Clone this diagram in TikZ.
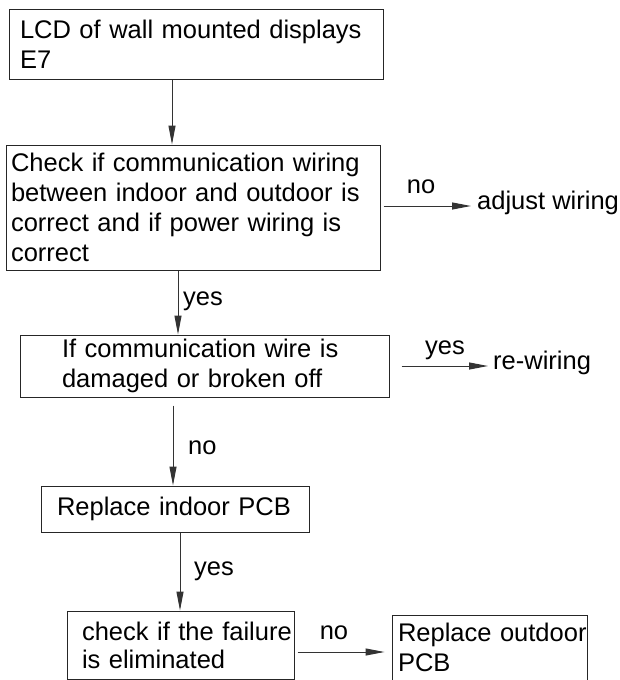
\documentclass[tikz,border=0pt]{standalone}
\usepackage{fontspec}
\setmainfont{Liberation Sans}
\usetikzlibrary{arrows.meta}
\begin{document}
\begin{tikzpicture}[x=1pt,y=-1pt,
  box/.style={draw=black!85, line width=1pt, rectangle, align=left, inner ysep=0pt, font=\fontsize{25.5}{30}\selectfont, text=black},
  lbl/.style={inner sep=0pt, font=\fontsize{25.5}{30}\selectfont, text=black},
  arr/.style={draw=black!80, line width=1pt, -{Triangle[length=19pt,width=7pt]}},
]
\useasboundingbox (0,0) rectangle (619,680);
\node[box, minimum width=374pt, minimum height=70pt, inner xsep=11pt, text width=352pt] (b1) at (196,44) {\mbox{LCD of wall mounted displays}\\E7};
\node[box, minimum width=374pt, minimum height=125pt, inner xsep=5pt, text width=364pt] (b2) at (193,207.5) {\mbox{Check if communication wiring}\\\mbox{between indoor and outdoor is}\\\mbox{correct and if power wiring is}\\correct};
\node[box, minimum width=369pt, minimum height=62pt, inner xsep=42pt, text width=285pt] (b3) at (204.5,366) {\mbox{If communication wire is}\\\mbox{damaged or broken off}};
\node[box, minimum width=268pt, minimum height=46pt, inner xsep=16pt, text width=236pt] (b4) at (175,509) {\mbox{Replace indoor PCB}};
\node[box, minimum width=227pt, minimum height=68pt, inner xsep=15pt, text width=197pt, font=\fontsize{25.5}{28}\selectfont] (b5) at (180.5,645) {\mbox{check if the failure}\\\mbox{is eliminated}};
\node[box, minimum width=195pt, minimum height=65pt, inner xsep=6pt, text width=183pt] (b6) at (489.5,647.5) {\mbox{Replace outdoor}\\PCB};

\node[lbl, anchor=base west] (t1) at (477,209) {adjust wiring};
\node[lbl, anchor=base west] (t2) at (493,369) {re-wiring};

\node[lbl, anchor=base] (l1) at (421,193) {no};
\node[lbl, anchor=base] (l2) at (445,354) {yes};
\node[lbl, anchor=base west] (l3) at (183,305) {yes};
\node[lbl, anchor=base west] (l4) at (188,454) {no};
\node[lbl, anchor=base west] (l5) at (194,575) {yes};
\node[lbl, anchor=base] (l6) at (334,639) {no};

\draw[arr] (b1.south -| 172,0) -- (b2.north -| 172,0);
\draw[arr] (b2.south -| 178,0) -- (b3.north -| 178,0);
\draw[arr, shorten <=8pt] (b3.south -| 173,0) -- (b4.north -| 173,0);
\draw[arr] (b4.south -| 180,0) -- (b5.north -| 180,0);
\draw[arr, shorten <=3pt, shorten >=6pt] (b2.east |- 0,206) -- (t1.west |- 0,206);
\draw[arr, shorten <=12pt, shorten >=5pt] (b3.east |- 0,366) -- (t2.west |- 0,366);
\draw[arr, shorten <=3pt, shorten >=7pt] (b5.east |- 0,652) -- (b6.west |- 0,652);
\end{tikzpicture}
\end{document}
